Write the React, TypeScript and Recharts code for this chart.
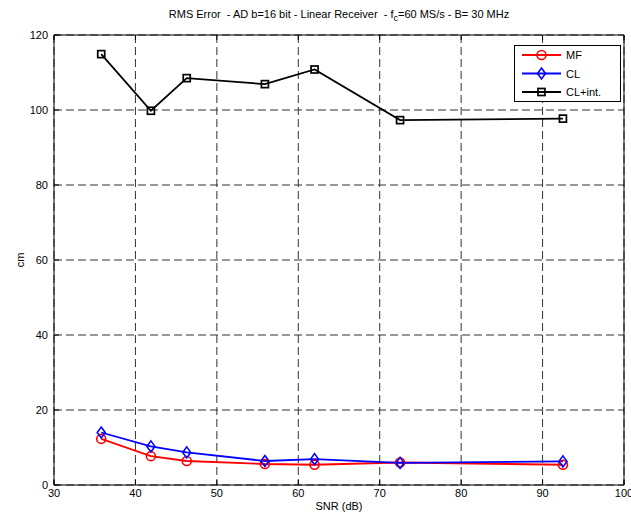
import React from "react";
import { LineChart, Line, XAxis, YAxis, CartesianGrid } from "recharts";

const snr = [35.8, 41.9, 46.3, 55.9, 62.0, 72.5, 92.5];
const mf = [12.3, 7.7, 6.4, 5.6, 5.4, 6.0, 5.4];
const cl = [14.0, 10.3, 8.7, 6.4, 6.9, 5.9, 6.3];
const clInt = [114.9, 99.8, 108.5, 106.9, 110.8, 97.3, 97.7];

const xTicks = [30, 40, 50, 60, 70, 80, 90, 100];
const yTicks = [0, 20, 40, 60, 80, 100, 120];

const seriesInfo = [
  { key: "mf", name: "MF", color: "#ff0000", shape: "circle" },
  { key: "cl", name: "CL", color: "#0000ff", shape: "diamond" },
  { key: "cli", name: "CL+int.", color: "#000000", shape: "square" },
];

const data = snr.map((s, i) => ({ snr: s, mf: mf[i], cl: cl[i], cli: clInt[i] }));

const FONT = "'Liberation Sans', Arial, sans-serif";

function Marker({ cx, cy, shape, color }: any) {
  if (cx == null || cy == null) return null;
  if (shape === "circle")
    return <circle cx={cx} cy={cy} r={4.5} fill="none" stroke={color} strokeWidth={1.6} />;
  if (shape === "diamond")
    return (
      <polygon
        points={`${cx},${cy - 5.5} ${cx + 4},${cy} ${cx},${cy + 5.5} ${cx - 4},${cy}`}
        fill="none"
        stroke={color}
        strokeWidth={1.6}
      />
    );
  return <rect x={cx - 3.5} y={cy - 3.5} width={7} height={7} fill="none" stroke={color} strokeWidth={1.7} />;
}

const makeDot = (shape: string, color: string) => (p: any) => (
  <Marker key={`${shape}-${p.index}`} cx={p.cx} cy={p.cy} shape={shape} color={color} />
);

const BottomTick = (p: any) => (
  <g>
    <line x1={p.x} x2={p.x} y1={p.y} y2={p.y - 5} stroke="#000" />
    <text x={p.x} y={p.y + 12} textAnchor="middle" fontSize={11} fontFamily={FONT} fill="#000">
      {p.payload.value}
    </text>
  </g>
);
const TopTick = (p: any) => (
  <line x1={p.x} x2={p.x} y1={p.y} y2={p.y + 5} stroke="#000" />
);
const LeftTick = (p: any) => (
  <g>
    <line x1={p.x} x2={p.x + 5} y1={p.y} y2={p.y} stroke="#000" />
    <text x={p.x - 6} y={p.y + 4} textAnchor="end" fontSize={11} fontFamily={FONT} fill="#000">
      {p.payload.value}
    </text>
  </g>
);
const RightTick = (p: any) => (
  <line x1={p.x} x2={p.x - 5} y1={p.y} y2={p.y} stroke="#000" />
);

const LegendBox = () => (
  <svg width={108} height={58} style={{ display: "block" }}>
    <rect x={0.5} y={0.5} width={106} height={56} fill="#fff" stroke="#000" strokeWidth={1} />
    {seriesInfo.map((s, i) => {
      const y = 10 + i * 18.5;
      return (
        <g key={s.key}>
          <line x1={8} x2={47} y1={y} y2={y} stroke={s.color} strokeWidth={1.8} />
          <Marker cx={27.5} cy={y} shape={s.shape} color={s.color} />
          <text x={52} y={y + 4} fontSize={11} fontFamily={FONT} fill="#000">
            {s.name}
          </text>
        </g>
      );
    })}
  </svg>
);

export default function App() {
  return (
    <div style={{ position: "absolute", left: 0, top: 0, width: 631, height: 516, background: "#fff", fontFamily: FONT, overflow: "hidden" }}>
      <LineChart
        width={631}
        height={516}
        data={data}
        margin={{ top: 34, right: 6, left: 53, bottom: 30 }}
        style={{ position: "absolute", left: 0, top: 0 }}
      >
        <CartesianGrid stroke="#333" strokeDasharray="8 4" strokeWidth={1} />
        <XAxis
          dataKey="snr"
          type="number"
          domain={[30, 100]}
          ticks={xTicks}
          height={1}
          tickSize={0}
          tickMargin={0}
          tickLine={false}
          axisLine={{ stroke: "#000" }}
          tick={<BottomTick />}
          interval={0}
        />
        <XAxis
          xAxisId="top"
          orientation="top"
          dataKey="snr"
          type="number"
          domain={[30, 100]}
          ticks={xTicks}
          height={1}
          tickSize={0}
          tickMargin={0}
          tickLine={false}
          axisLine={{ stroke: "#000" }}
          tick={<TopTick />}
          interval={0}
        />
        <YAxis
          type="number"
          domain={[0, 120]}
          ticks={yTicks}
          width={1}
          tickSize={0}
          tickMargin={0}
          tickLine={false}
          axisLine={{ stroke: "#000" }}
          tick={<LeftTick />}
          interval={0}
        />
        <YAxis
          yAxisId="right"
          orientation="right"
          type="number"
          domain={[0, 120]}
          ticks={yTicks}
          width={1}
          tickSize={0}
          tickMargin={0}
          tickLine={false}
          axisLine={{ stroke: "#000" }}
          tick={<RightTick />}
          interval={0}
        />
        <Line
          dataKey="mf"
          name="MF"
          stroke="#ff0000"
          strokeWidth={1.8}
          dot={makeDot("circle", "#ff0000")}
          isAnimationActive={false}
        />
        <Line
          dataKey="cl"
          name="CL"
          stroke="#0000ff"
          strokeWidth={1.8}
          dot={makeDot("diamond", "#0000ff")}
          isAnimationActive={false}
        />
        <Line
          dataKey="cli"
          name="CL+int."
          stroke="#000000"
          strokeWidth={1.8}
          dot={makeDot("square", "#000000")}
          isAnimationActive={false}
        />
      </LineChart>
      <div style={{ position: "absolute", left: 514, top: 45 }}>
        <LegendBox />
      </div>
      <div
        style={{
          position: "absolute",
          left: 54,
          width: 570,
          top: 8,
          textAlign: "center",
          fontSize: 11,
          color: "#000",
          whiteSpace: "pre",
        }}
      >
        {"RMS Error  - AD b=16 bit - Linear Receiver  - f"}
        <sub style={{ fontSize: 9 }}>c</sub>
        {"=60 MS/s - B= 30 MHz"}
      </div>
      <div
        style={{
          position: "absolute",
          left: 54,
          width: 570,
          top: 500,
          textAlign: "center",
          fontSize: 11,
          color: "#000",
        }}
      >
        SNR (dB)
      </div>
      <div
        style={{
          position: "absolute",
          left: 20,
          top: 260,
          transform: "translate(-50%, -50%) rotate(-90deg)",
          fontSize: 11,
          color: "#000",
        }}
      >
        cm
      </div>
    </div>
  );
}
